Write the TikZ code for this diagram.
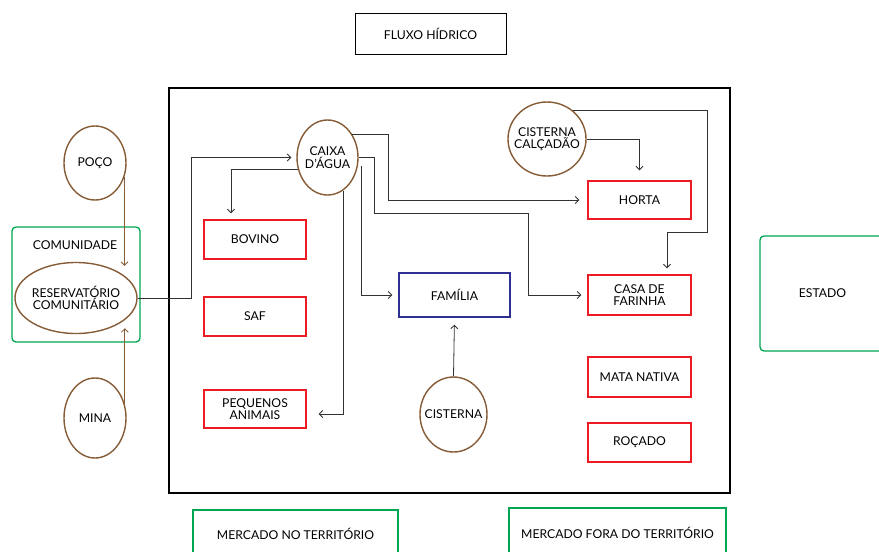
\documentclass[tikz,border=0pt]{standalone}
\usepackage{fontspec}
\setmainfont{Lato}
\usetikzlibrary{arrows.meta,shapes.geometric,calc}
\definecolor{cred}{RGB}{237,28,36}
\definecolor{cblue}{RGB}{46,49,146}
\definecolor{cgreen}{RGB}{0,166,81}
\definecolor{cbrown}{RGB}{133,92,54}
\definecolor{cline}{RGB}{50,50,50}
\begin{document}
\begin{tikzpicture}[x=1pt,y=-1pt,
  font=\fontsize{12.2}{12.6}\selectfont,
  every node/.style={align=center, inner sep=0pt, text=black},
  redbox/.style={draw=cred, line width=1.4pt, minimum width=102pt, minimum height=39pt},
  bluebox/.style={draw=cblue, line width=1.4pt, minimum width=111pt, minimum height=44pt},
  greenbox/.style={draw=cgreen, line width=1.3pt},
  blackbox/.style={draw=black, line width=1pt},
  oval/.style={draw=cbrown, ellipse, line width=1.4pt},
  conn/.style={draw=cline, line width=0.8pt, -{Straight Barb[length=3.5pt,width=7pt]}},
  bconn/.style={draw=cbrown, line width=0.8pt, -{Straight Barb[length=3.5pt,width=7pt]}}]
\useasboundingbox (0,0) rectangle (879,552);
\clip (0,0) rectangle (879,552);

% title and frame
\node[blackbox, minimum width=151pt, minimum height=41pt] (title) at (430.5,33.5) {FLUXO HÍDRICO};
\node[draw=black, line width=1.8pt, minimum width=561pt, minimum height=405pt] (frame) at (449.5,290.5) {};

% left side
\node[greenbox, rounded corners=4pt, minimum width=128pt, minimum height=115pt] (comunidade) at (76,284.5) {};
\node (comlabel) at (75,245) {COMUNIDADE};
\node[oval, minimum width=62pt, minimum height=74pt, label={center:POÇO}] (poco) at (95,163) {};
\node[oval, minimum width=122pt, minimum height=71pt, label={center:RESERVATÓRIO\\COMUNITÁRIO}] (res) at (76,298) {};
\node[oval, minimum width=62pt, minimum height=80pt, label={center:MINA}] (mina) at (95,418) {};

% inside frame
\node[oval, minimum width=61pt, minimum height=75pt, label={center:CAIXA\\D'ÁGUA}] (caixa) at (327.5,157.5) {};
\node[oval, minimum width=78pt, minimum height=74pt, label={center:CISTERNA\\CALÇADÃO}] (cc) at (547,139) {};
\node[oval, minimum width=67pt, minimum height=75pt, label={center:CISTERNA}] (cisterna) at (453.5,414.5) {};

\node[redbox] (bovino) at (255,239.5) {BOVINO};
\node[redbox] (saf) at (255,316.5) {SAF};
\node[redbox, minimum height=38pt] (peq) at (255,409) {PEQUENOS\\ANIMAIS};
\node[redbox, minimum width=103pt, minimum height=38pt] (horta) at (639.5,200) {HORTA};
\node[redbox, minimum width=103pt, minimum height=40pt] (casa) at (639.5,295) {CASA DE\\FARINHA};
\node[redbox, minimum width=103pt, minimum height=40pt] (mata) at (639.5,377) {MATA NATIVA};
\node[redbox, minimum width=103pt, minimum height=39pt] (rocado) at (639.5,442.5) {ROÇADO};
\node[bluebox] (familia) at (454.5,295) {FAMÍLIA};

% outside
\node[greenbox, rounded corners=4pt, minimum width=125pt, minimum height=115pt] (estado) at (822.5,293.5) {ESTADO};
\node[greenbox, minimum width=205pt, minimum height=48pt] (mercno) at (295.5,534) {MERCADO NO TERRITÓRIO};
\node[greenbox, minimum width=217pt, minimum height=50pt] (mercfora) at (617.5,533) {MERCADO FORA DO TERRITÓRIO};

% brown connectors
\draw[bconn] (poco.-25) -- ($(poco.-25 |- res.north)+(0,4)$);
\draw[bconn] (mina.25) -- ($(mina.25 |- res.south)+(0,-6)$);

% connectors
\draw[conn, shorten >=5pt] (res.east) -- (191,298) |- (caixa.west);
\draw[conn, shorten >=6pt] (caixa.202) -| ($(bovino.north)+(-24,0)$);
\draw[conn, shorten >=8pt] (caixa.43) -| (388,200) -- (horta.west);
\draw[conn, shorten >=6pt] (caixa.east) -| (374,213) -| (528,295) -- (casa.west);
\draw[conn, shorten >=6pt] (caixa.-15) ++(3,0) |- (familia.west);
\draw[conn, shorten >=12pt] (caixa.-65) |- ($(peq.east)+(0,5)$);
\draw[conn, shorten >=6pt] (cc.48) -| (707,232) -| ($(casa.north)+(27.5,0)$);
\draw[conn, shorten >=10pt] (cc.east) -| (horta.north);
\draw[conn, shorten >=7pt] (cisterna.north) -- (familia.south);
\end{tikzpicture}
\end{document}
